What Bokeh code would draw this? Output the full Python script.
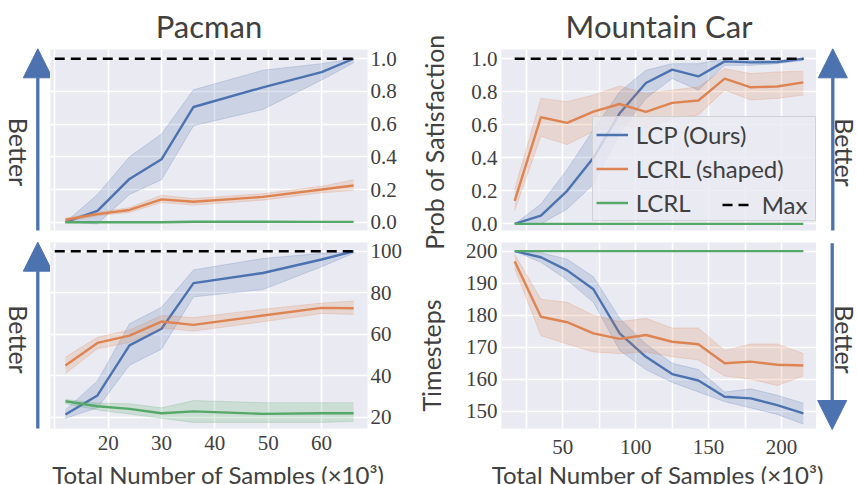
import math
from bokeh.plotting import figure
from bokeh.layouts import row, column
from bokeh.models import (Range1d, FixedTicker, PrintfTickFormatter, Label, Arrow,
                          NormalHead, Legend, LegendItem)
from bokeh.embed import file_html
from bokeh.resources import INLINE

# ---------------- data ----------------
PAC_X = [12, 18, 24, 30, 36, 49, 60, 66]
PAC_MAX_X = [10, 66]

PAC_P_LCP = [0.0, 0.07, 0.265, 0.385, 0.705, 0.825, 0.918, 1.0]
PAC_P_LCP_LO = [0.0, -0.01, 0.17, 0.26, 0.59, 0.69, 0.87, 0.975]
PAC_P_LCP_HI = [0.0, 0.17, 0.40, 0.54, 0.81, 0.93, 0.97, 1.0]
PAC_P_SH = [0.015, 0.05, 0.075, 0.14, 0.125, 0.155, 0.2, 0.225]
PAC_P_SH_LO = [0.005, 0.04, 0.06, 0.12, 0.105, 0.135, 0.18, 0.195]
PAC_P_SH_HI = [0.025, 0.06, 0.09, 0.165, 0.145, 0.175, 0.22, 0.26]
PAC_P_RL = [0.0, 0.0, 0.0, 0.0, 0.003, 0.003, 0.002, 0.002]
PAC_P_MAX = [1.0, 1.0]

PAC_R_LCP = [21.3, 30.5, 54.6, 62.6, 84.6, 89.5, 96.0, 100.0]
PAC_R_LCP_LO = [19.5, 24.5, 45.0, 52.8, 78.0, 81.5, 92.5, 99.0]
PAC_R_LCP_HI = [23.5, 37.5, 65.0, 73.0, 91.0, 96.5, 99.0, 100.0]
PAC_R_SH = [44.9, 55.8, 59.3, 66.1, 64.5, 69.0, 72.7, 72.5]
PAC_R_SH_LO = [41.0, 53.0, 56.0, 63.0, 61.5, 66.0, 70.0, 69.5]
PAC_R_SH_HI = [49.0, 58.5, 62.0, 69.0, 68.0, 72.0, 75.0, 76.0]
PAC_R_RL = [27.7, 25.3, 24.0, 21.9, 22.8, 21.6, 21.9, 21.9]
PAC_R_RL_LO = [26.5, 23.5, 21.5, 19.5, 17.5, 17.5, 17.5, 18.0]
PAC_R_RL_HI = [28.5, 26.8, 26.5, 24.5, 28.0, 27.0, 27.0, 27.0]
PAC_R_MAX = [100.0, 100.0]

MC_X = [17, 35, 53, 71, 89, 107, 125, 143, 161, 179, 197, 215]
MC_MAX_X = [17, 215]

MC_P_LCP = [0.0, 0.05, 0.2, 0.40, 0.67, 0.853, 0.934, 0.893, 0.984, 0.978, 0.98, 1.0]
MC_P_LCP_LO = [0.0, 0.0, 0.09, 0.24, 0.55, 0.76, 0.88, 0.81, 0.96, 0.96, 0.97, 0.99]
MC_P_LCP_HI = [0.0, 0.12, 0.33, 0.57, 0.80, 0.93, 0.97, 0.97, 1.0, 0.99, 0.99, 1.0]
MC_P_SH = [0.14, 0.646, 0.612, 0.68, 0.726, 0.678, 0.733, 0.747, 0.88, 0.827, 0.832, 0.857]
MC_P_SH_LO = [0.08, 0.53, 0.48, 0.56, 0.60, 0.58, 0.64, 0.66, 0.81, 0.75, 0.76, 0.78]
MC_P_SH_HI = [0.21, 0.76, 0.74, 0.78, 0.835, 0.79, 0.81, 0.83, 0.94, 0.91, 0.92, 0.925]
MC_P_RL = [0.0, 0.0, 0.0, 0.0, 0.0, 0.0, 0.0, 0.0, 0.0, 0.0, 0.0, 0.0]
MC_P_MAX = [1.0, 1.0]

MC_T_LCP = [200.0, 198.1, 194.0, 188.1, 174.3, 167.0, 161.6, 159.6, 154.5, 154.0, 151.9, 149.3]
MC_T_LCP_LO = [200.0, 196.5, 191.0, 184.0, 169.0, 163.0, 159.0, 156.0, 153.0, 151.0, 149.0, 146.0]
MC_T_LCP_HI = [200.0, 199.5, 197.5, 192.0, 179.0, 171.0, 165.0, 163.0, 156.0, 157.0, 155.0, 152.5]
MC_T_SH = [196.8, 179.5, 177.8, 174.3, 172.6, 173.8, 171.7, 170.9, 165.0, 165.5, 164.5, 164.3]
MC_T_SH_LO = [194.5, 173.6, 171.0, 168.5, 168.0, 168.5, 167.0, 166.0, 161.0, 160.0, 158.0, 161.0]
MC_T_SH_HI = [199.0, 185.0, 184.0, 180.0, 178.0, 179.0, 176.0, 176.0, 169.0, 171.0, 171.0, 168.0]
MC_T_RL = [200.0, 200.0, 200.0, 200.0, 200.0, 200.0, 200.0, 200.0, 200.0, 200.0, 200.0, 200.0]

PAC_XTICKS = [20, 30, 40, 50, 60]
PAC_XMINOR = [10]
MC_XTICKS = [50, 100, 150, 200]
MC_XMINOR = [25, 75, 125, 175]
PROB_TICKS = [0.0, 0.2, 0.4, 0.6, 0.8, 1.0]
PAC_R_TICKS = [20, 40, 60, 80, 100]
MC_T_TICKS = [150, 160, 170, 180, 190, 200]

NAMES = ["LCP (Ours)", "LCRL (shaped)", "LCRL", "Max"]
TITLES = ["Pacman", "Mountain Car"]
YLABELS = ["Prob of Satisfaction", "Timesteps"]
XLABEL = "Total Number of Samples (\u00d710\u00b3)"
BETTER = "Better"

# ---------------- style ----------------
BLUE, ORANGE, GREEN = "#4C72B0", "#DD8452", "#55A868"
TEXT = "#404040"
BG = "#EAEAF2"
SANS = "Lato"
SERIF = "Liberation Serif"


def base_fig(width, height, xr, yr, mbl, mbr, mbt, mbb, yloc, xticks, xminor, yticks):
    p = figure(width=width, height=height, x_range=Range1d(*xr), y_range=Range1d(*yr),
               y_axis_location=yloc, output_backend="svg", toolbar_location=None,
               min_border_left=mbl, min_border_right=mbr, min_border_top=mbt,
               min_border_bottom=mbb, background_fill_color=BG,
               border_fill_color="white", outline_line_color=None)
    xt = FixedTicker(ticks=xticks, minor_ticks=xminor)
    yt = FixedTicker(ticks=yticks)
    p.xaxis.ticker = xt
    p.xgrid.ticker = xt
    p.yaxis.ticker = yt
    p.ygrid.ticker = yt
    for ax in p.axis:
        ax.axis_line_color = None
        ax.major_tick_line_color = None
        ax.minor_tick_line_color = None
        ax.major_tick_in = 0
        ax.major_tick_out = 0
        ax.minor_tick_in = 0
        ax.minor_tick_out = 0
        ax.major_label_text_font = SERIF
        ax.major_label_text_font_size = "21px"
        ax.major_label_text_color = TEXT
    for g in p.grid:
        g.grid_line_color = "white"
        g.grid_line_width = 1.6
        g.minor_grid_line_color = "white"
        g.minor_grid_line_width = 1.6
    return p


def decor_fig(width, height, x0, y0):
    # blank panel; x = page pixel, y = minus page pixel (so y still grows upwards)
    p = figure(width=width, height=height, x_range=Range1d(x0, x0 + width),
               y_range=Range1d(-(y0 + height), -y0), output_backend="svg",
               toolbar_location=None, min_border=0, outline_line_color=None,
               background_fill_color="white", border_fill_color="white")
    p.axis.visible = False
    p.grid.visible = False
    return p


def series(p, x, y, color, lo=None, hi=None):
    if lo is not None:
        p.varea(x=x, y1=lo, y2=hi, fill_color=color, fill_alpha=0.2)
        p.line(x, lo, line_color=color, line_alpha=0.22, line_width=1)
        p.line(x, hi, line_color=color, line_alpha=0.22, line_width=1)
    return p.line(x, y, line_color=color, line_width=2.4)


def max_line(p, x, y):
    return p.line(x, y, line_color="black", line_width=2.5, line_dash="10 6")


def lab(p, text, x, y, size, angle=0.0):
    # (x, y): page-pixel centre of the text box
    p.add_layout(Label(x=x, y=-y, text=text, angle=angle, text_font=SANS,
                       text_font_size=size, text_color=TEXT, text_align="center",
                       text_baseline="middle"))


def arrow(p, x, y0, y1):
    p.add_layout(Arrow(end=NormalHead(size=29, fill_color=BLUE, line_color=BLUE, line_width=1),
                       x_start=x, y_start=-y0, x_end=x, y_end=-y1,
                       line_color=BLUE, line_width=3.3))


def style_title(p, text, offset):
    p.title.text = text
    p.title.text_font = SANS
    p.title.text_font_size = "31px"
    p.title.text_font_style = "normal"
    p.title.text_color = TEXT
    p.title.align = "center"
    p.title.offset = offset
    p.title.standoff = 9


# ---------------- Pacman: probability ----------------
tl = base_fig(355, 236, (9.2, 68.6), (-0.0505, 1.0566), 0, 38, 48, 6, "right",
              PAC_XTICKS, PAC_XMINOR, PROB_TICKS)
tl.xaxis.visible = False
tl.yaxis.formatter = PrintfTickFormatter(format="%.1f")
tl.yaxis.major_label_standoff = 3
series(tl, PAC_X, PAC_P_LCP, BLUE, PAC_P_LCP_LO, PAC_P_LCP_HI)
series(tl, PAC_X, PAC_P_SH, ORANGE, PAC_P_SH_LO, PAC_P_SH_HI)
series(tl, PAC_X, PAC_P_RL, GREEN)
max_line(tl, PAC_MAX_X, PAC_P_MAX)
style_title(tl, TITLES[0], -8)

# ---------------- Pacman: reward ----------------
bl = base_fig(355, 227, (9.2, 68.6), (14.55, 104.2), 0, 38, 6, 35, "right",
              PAC_XTICKS, PAC_XMINOR, PAC_R_TICKS)
bl.yaxis.major_label_standoff = 3
bl.xaxis.major_label_standoff = 7
series(bl, PAC_X, PAC_R_LCP, BLUE, PAC_R_LCP_LO, PAC_R_LCP_HI)
series(bl, PAC_X, PAC_R_SH, ORANGE, PAC_R_SH_LO, PAC_R_SH_HI)
series(bl, PAC_X, PAC_R_RL, GREEN, PAC_R_RL_LO, PAC_R_RL_HI)
max_line(bl, PAC_MAX_X, PAC_R_MAX)

# ---------------- Mountain Car: probability ----------------
tr = base_fig(355, 236, (7.96, 224.0), (-0.04, 1.056), 40, 0, 48, 6, "left",
              MC_XTICKS, MC_XMINOR, PROB_TICKS)
tr.xaxis.visible = False
tr.yaxis.formatter = PrintfTickFormatter(format="%.1f")
tr.yaxis.major_label_standoff = 4
r1 = series(tr, MC_X, MC_P_LCP, BLUE, MC_P_LCP_LO, MC_P_LCP_HI)
r2 = series(tr, MC_X, MC_P_SH, ORANGE, MC_P_SH_LO, MC_P_SH_HI)
r3 = series(tr, MC_X, MC_P_RL, GREEN)
r4 = max_line(tr, MC_MAX_X, MC_P_MAX)
style_title(tr, TITLES[1], -2)

leg = Legend(items=[LegendItem(label=NAMES[0], renderers=[r1]),
                    LegendItem(label=NAMES[1], renderers=[r2]),
                    LegendItem(label=NAMES[2], renderers=[r3])],
             location=(90.7, 9.5), padding=3, spacing=5, margin=0,
             glyph_width=32, glyph_height=29, label_height=29, label_width=176,
             label_standoff=8, label_text_font=SANS, label_text_font_size="24px",
             label_text_color=TEXT, background_fill_color=BG, background_fill_alpha=0.8,
             border_line_color="#cccccc", border_line_alpha=0.8, border_line_width=1)
tr.add_layout(leg)
leg2 = Legend(items=[LegendItem(label=NAMES[3], renderers=[r4])],
              location=(220.7, 11.5), padding=0, spacing=0, margin=0,
              glyph_width=30, glyph_height=29, label_height=29,
              label_standoff=10, label_text_font=SANS, label_text_font_size="24px",
              label_text_color=TEXT, background_fill_alpha=0, border_line_alpha=0)
tr.add_layout(leg2)

# ---------------- Mountain Car: timesteps ----------------
br = base_fig(355, 227, (7.96, 224.0), (144.6, 202.7), 40, 0, 6, 35, "left",
              MC_XTICKS, MC_XMINOR, MC_T_TICKS)
br.yaxis.major_label_standoff = 4
br.xaxis.major_label_standoff = 11
series(br, MC_X, MC_T_LCP, BLUE, MC_T_LCP_LO, MC_T_LCP_HI)
series(br, MC_X, MC_T_SH, ORANGE, MC_T_SH_LO, MC_T_SH_HI)
series(br, MC_X, MC_T_RL, GREEN)

# ---------------- decorations outside the plot areas ----------------
TOP_H = 463

dl = decor_fig(50, TOP_H, 0, 0)          # left arrows
lab(dl, BETTER, 18, 151.5, "25px", angle=-math.pi / 2)
arrow(dl, 37.3, 230, 48.3)
lab(dl, BETTER, 18, 339, "25px", angle=-math.pi / 2)
arrow(dl, 37.3, 428, 241.7)

dm = decor_fig(56, TOP_H, 405, 0)        # y labels of the right panels
lab(dm, YLABELS[0], 433.5, 141.5, "25px", angle=math.pi / 2)
lab(dm, YLABELS[1], 430.5, 355, "25px", angle=math.pi / 2)

dr = decor_fig(41, TOP_H, 816, 0)        # right arrows
lab(dr, BETTER, 844, 152, "25px", angle=-math.pi / 2)
arrow(dr, 832.3, 230, 48.3)
lab(dr, BETTER, 844, 339, "25px", angle=-math.pi / 2)
arrow(dr, 831.7, 242.7, 429)

xs = decor_fig(857, 484 - TOP_H, 0, TOP_H)   # x labels strip
lab(xs, XLABEL, 218, 473.5, "24px")
lab(xs, XLABEL, 657.5, 473.5, "24px")

top = row(dl, column(tl, bl), dm, column(tr, br), dr)
layout = column(top, xs)
open("out.html", "w").write(file_html(layout, INLINE))
